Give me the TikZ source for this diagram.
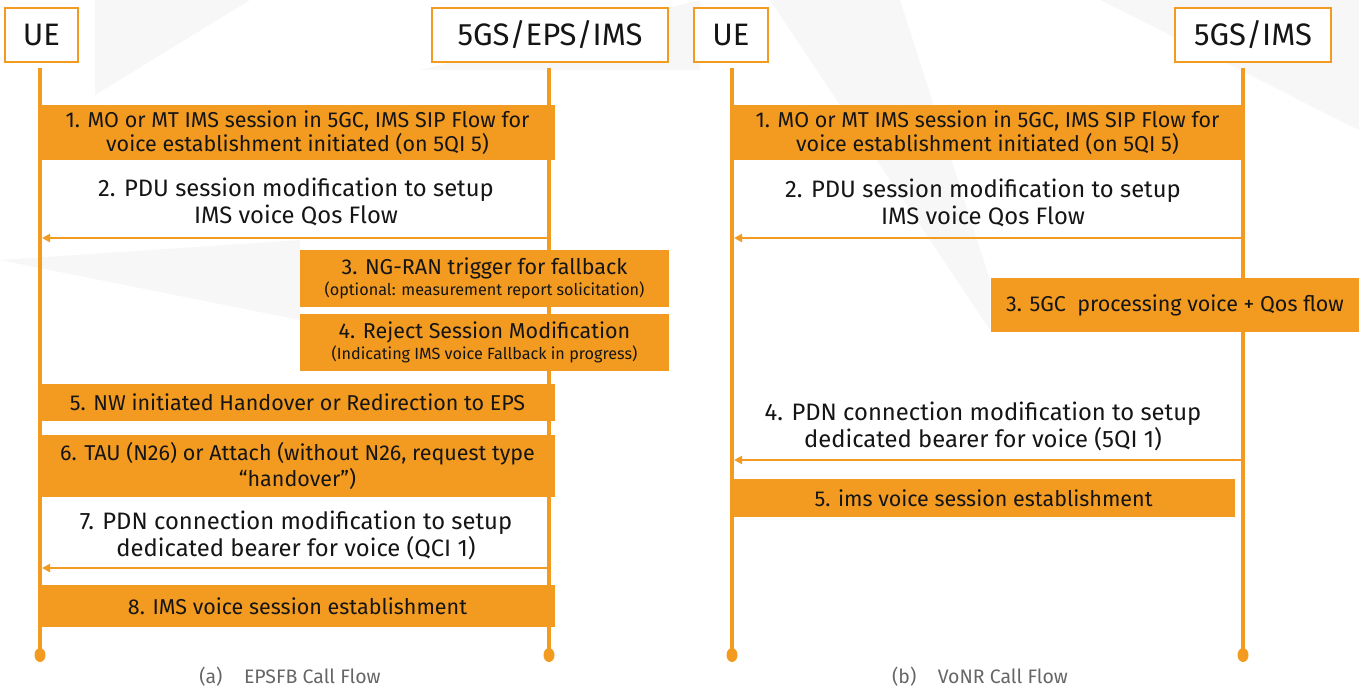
\documentclass[tikz,border=0pt]{standalone}
\usepackage{fontspec}
\setmainfont{Fira Sans}
\usetikzlibrary{arrows.meta,shapes.geometric}
\definecolor{flow}{HTML}{F39B21}
\definecolor{ink}{HTML}{151515}
\definecolor{capgray}{HTML}{666666}
\definecolor{bgtint}{HTML}{F7F7F7}
\tikzset{
  actor/.style={draw=flow, line width=2.5pt, fill=white, inner sep=0pt,
    minimum height=54pt, font=\fontsize{31}{34}\selectfont, text=ink},
  lifeline/.style={draw=flow, line width=3.5pt},
  enddot/.style={fill=flow, draw=none, ellipse, minimum width=11pt, minimum height=14pt, inner sep=0pt},
  stepbox/.style={fill=flow, draw=none, inner sep=0pt, align=center, text=ink,
    font=\fontsize{21.5}{24}\selectfont},
  msgtext/.style={align=center, text=ink, inner sep=0pt, font=\fontsize{23.8}{27}\selectfont},
  msg/.style={draw=flow, line width=2pt, -{Triangle[length=8pt,width=8pt]}},
  caption/.style={text=capgray, font=\fontsize{19.5}{22}\selectfont, inner sep=0pt}
}
\newcommand{\subline}[1]{{\fontsize{16.2}{19}\selectfont #1}}
\begin{document}
\begin{tikzpicture}[x=1pt,y=-1pt]
\useasboundingbox (0,0) rectangle (1359,697);
% faint background panels
\fill[bgtint] (95,0) -- (250,0) -- (95,95) -- cycle;
\fill[bgtint] (420,70) -- (700,0) -- (700,70) -- cycle;
\fill[bgtint] (0,260) -- (300,240) -- (300,320) -- cycle;
\fill[bgtint] (1100,0) -- (1359,0) -- (1359,130) -- cycle;
\fill[bgtint] (770,0) -- (900,0) -- (990,280) -- (990,330) -- cycle;

% ---------- (a) EPS fallback ----------
\node[actor, minimum width=73pt] (ueA) at (41.5,35) {UE};
\node[actor, minimum width=236pt] (nwA) at (550,35) {5GS/EPS/IMS};
\coordinate (ueAtop) at (40,68);  \coordinate (ueAbot) at (40,655);
\coordinate (nwAtop) at (549,68); \coordinate (nwAbot) at (549,655);
\draw[lifeline] (ueAtop) -- (ueAbot);
\draw[lifeline] (nwAtop) -- (nwAbot);
\node[enddot] (ueAend) at (ueAbot) {};
\node[enddot] (nwAend) at (nwAbot) {};

\node[stepbox, minimum width=515pt, minimum height=55pt] (a1) at (297.5,132.5)
  {1. MO or MT IMS session in 5GC, IMS SIP Flow for\\voice establishment initiated (on 5QI 5)};
\node[msgtext] (a2t) at (296,202) {2. PDU session modification to setup\\IMS voice Qos Flow};
\coordinate (a2s) at (549,238); \coordinate (a2e) at (42,238);
\draw[msg] (a2s) -- (a2e);
\node[stepbox, minimum width=369pt, minimum height=57pt] (a3) at (484.5,278.5)
  {3. NG-RAN trigger for fallback\\[-3pt]\subline{(optional: measurement report solicitation)}};
\node[stepbox, minimum width=369pt, minimum height=57pt] (a4) at (484.5,342.5)
  {4. Reject Session Modification\\[-3pt]\subline{(Indicating IMS voice Fallback in progress)}};
\node[stepbox, minimum width=515pt, minimum height=37pt] (a5) at (297.5,402.5)
  {5. NW initiated Handover or Redirection to EPS};
\node[stepbox, minimum width=515pt, minimum height=62pt] (a6) at (297.5,466)
  {6. TAU (N26) or Attach (without N26, request type\\[2pt]“handover”)};
\node[msgtext] (a7t) at (296,535) {7. PDN connection modification to setup\\dedicated bearer for voice (QCI 1)};
\coordinate (a7s) at (549,568); \coordinate (a7e) at (42,568);
\draw[msg] (a7s) -- (a7e);
\node[stepbox, minimum width=515pt, minimum height=42pt] (a8) at (297.5,606)
  {8. IMS voice session establishment};
\node[caption] (capA) at (290,677) {(a)\hspace{1.1em}EPSFB Call Flow};

% ---------- (b) VoNR ----------
\node[actor, minimum width=74pt] (ueB) at (731,35) {UE};
\node[actor, minimum width=156pt] (nwB) at (1253,35) {5GS/IMS};
\coordinate (ueBtop) at (732,68);  \coordinate (ueBbot) at (732,655);
\coordinate (nwBtop) at (1243,68); \coordinate (nwBbot) at (1243,655);
\draw[lifeline] (ueBtop) -- (ueBbot);
\draw[lifeline] (nwBtop) -- (nwBbot);
\node[enddot] (ueBend) at (ueBbot) {};
\node[enddot] (nwBend) at (nwBbot) {};

\node[stepbox, minimum width=511pt, minimum height=55pt] (b1) at (987.5,132.5)
  {1. MO or MT IMS session in 5GC, IMS SIP Flow for\\voice establishment initiated (on 5QI 5)};
\node[msgtext] (b2t) at (983,203) {2. PDU session modification to setup\\IMS voice Qos Flow};
\coordinate (b2s) at (1243,238); \coordinate (b2e) at (734,238);
\draw[msg] (b2s) -- (b2e);
\node[stepbox, minimum width=368pt, minimum height=54pt] (b3) at (1175,305)
  {3. 5GC\ \ processing voice + Qos flow};
\node[msgtext] (b4t) at (983,426) {4. PDN connection modification to setup\\dedicated bearer for voice (5QI 1)};
\coordinate (b4s) at (1243,460); \coordinate (b4e) at (734,460);
\draw[msg] (b4s) -- (b4e);
\node[stepbox, minimum width=503pt, minimum height=38pt] (b5) at (983.5,498)
  {5. ims voice session establishment};
\node[caption] (capB) at (980,677) {(b)\hspace{1.1em}VoNR Call Flow};
\end{tikzpicture}
\end{document}
